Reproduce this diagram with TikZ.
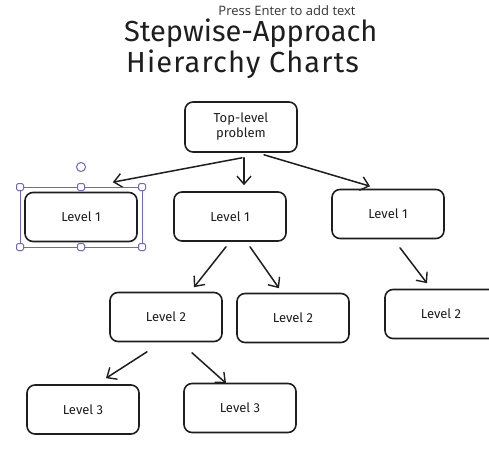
\documentclass[tikz,border=0pt]{standalone}
\usepackage{fontspec}
\setmainfont{Fira Sans}
\newfontfamily\uifont{Open Sans}
\usetikzlibrary{arrows.meta}
\definecolor{ink}{HTML}{1E1E1E}
\definecolor{sel}{HTML}{6965DB}
\tikzset{
  box/.style={draw=ink, line width=1.6pt, rounded corners=8pt, minimum width=112pt, minimum height=49pt, inner sep=0pt, align=center, font=\fontsize{13}{15}\selectfont, text=ink},
  arr/.style={draw=ink, line width=1.5pt, line cap=round, -{Straight Barb[length=8pt,width=14pt,line width=1.4pt]}},
  handle/.style={draw=sel, fill=white, line width=1pt, rounded corners=1.5pt, minimum size=7pt, inner sep=0pt},
  title/.style={font=\fontsize{29}{32}\selectfont, text=ink, anchor=west, inner sep=0pt},
}
\begin{document}
\begin{tikzpicture}[x=1pt,y=-1pt]
\useasboundingbox (0,0) rectangle (489,460);
\clip (0,0) rectangle (489,460);
\fill[white] (0,0) rectangle (489,460);
% titles
\node[font=\uifont\fontsize{13}{15}\selectfont, text=black!80, anchor=center] (hint) at (287,11) {Press Enter to add text};
\node[title] (t1) at (124,33) {Stepwise-Approach};
\node[title] (t2) at (126,64) {\addfontfeature{LetterSpace=4}Hierarchy Charts};
% boxes
\node[box, minimum height=50pt] (top) at (241,127) {Top-level\\problem};
\node[box] (l1a) at (81,217) {Level 1};
\node[box] (l1b) at (230,216.5) {Level 1};
\node[box] (l1c) at (388,214) {Level 1};
\node[box] (l2a) at (166,317) {Level 2};
\node[box] (l2b) at (293,318) {Level 2};
\node[box] (l2c) at (441,314) {Level 2};
\node[box] (l3a) at (83,409.5) {Level 3};
\node[box] (l3b) at (240,408) {Level 3};
% arrows
\draw[arr] ([shift={(1,5)}]top.south) -- ([shift={(-25,-9.5)}]l1a.north east);
\draw[arr] ([shift={(3,5)}]top.south) -- ([shift={(14,-6)}]l1b.north);
\draw[arr] ([shift={(23,2)}]top.south) -- ([shift={(-18,-2.5)}]l1c.north);
\draw[arr] ([shift={(-4,5)}]l1b.south) -- ([shift={(28,-4.5)}]l2a.north);
\draw[arr] ([shift={(20,5)}]l1b.south) -- ([shift={(-14,-4.5)}]l2b.north);
\draw[arr] ([shift={(12,8.5)}]l1c.south) -- ([shift={(-14,-5.5)}]l2c.north);
\draw[arr] ([shift={(-19,9.5)}]l2a.south) -- ([shift={(23,-6)}]l3a.north);
\draw[arr] ([shift={(26,10.5)}]l2a.south) -- ([shift={(-14,0.5)}]l3b.north);
% selection frame
\draw[sel, line width=1pt] (20,187) rectangle (142,247);
\foreach \hx/\hy [count=\i] in {20/187, 81/187, 142/187, 20/247, 81/247, 142/247}
  \node[handle] (h\i) at (\hx,\hy) {};
\node[draw=sel, fill=white, line width=1pt, circle, minimum size=9pt, inner sep=0pt] (rot) at (81,167) {};
\end{tikzpicture}
\end{document}
